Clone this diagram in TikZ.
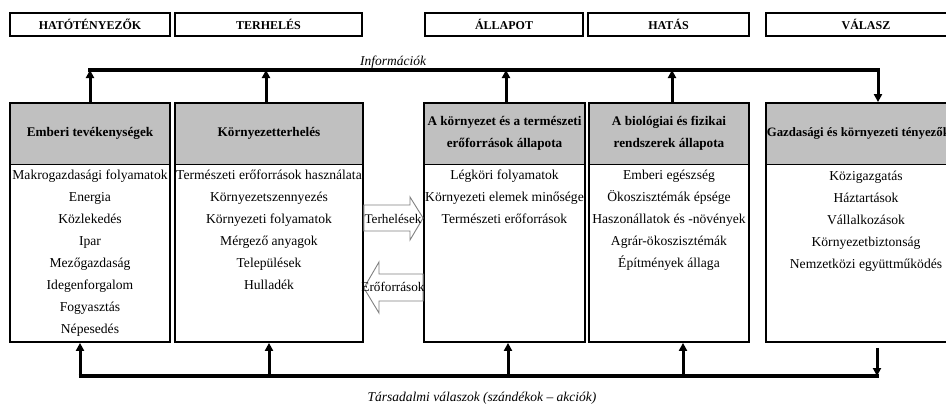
\documentclass[tikz,border=0pt]{standalone}
\usepackage{fontspec}
\setmainfont{Liberation Serif}
\usetikzlibrary{arrows.meta,calc}
\definecolor{hdrgray}{RGB}{192,192,192}
\definecolor{arrgray}{RGB}{128,128,128}
\begin{document}
\begin{tikzpicture}[x=1pt,y=-1pt,
  phase/.style={draw,line width=2pt,minimum height=23pt,inner sep=0pt,
    font=\bfseries\fontsize{12}{14}\selectfont},
  mainbox/.style={draw,line width=1.8pt,minimum height=239pt,inner sep=0pt,
    path picture={
      \fill[hdrgray] (path picture bounding box.north west) rectangle
        ([yshift=-61pt]path picture bounding box.north east);
      \draw[line width=0.8pt] ([yshift=-61pt]path picture bounding box.north west) --
        ([yshift=-61pt]path picture bounding box.north east);}},
  title/.style={font=\bfseries\fontsize{13.2}{22}\selectfont,align=center,inner sep=0pt},
  item/.style={font=\fontsize{13.6}{15}\selectfont,text height=10pt,text depth=3pt,inner sep=0pt},
  bus/.style={line width=4pt},
  tip/.style={line width=3pt,-{Triangle[length=8pt,width=8pt]}},
  lbl/.style={font=\itshape\fontsize{13.5}{15}\selectfont,inner sep=0pt},
  blockarrow/.style={draw=arrgray,fill=white,line width=0.9pt,line join=miter}
]
\useasboundingbox (0,0) rectangle (946,407);
\clip (0,0) rectangle (946,407);

% phase headers
\node[phase,minimum width=160pt] (h1) at (90,24) {HATÓTÉNYEZŐK};
\node[phase,minimum width=187pt] (h2) at (268.5,24) {TERHELÉS};
\node[phase,minimum width=158pt] (h3) at (504,24) {ÁLLAPOT};
\node[phase,minimum width=161pt] (h4) at (668.5,24) {HATÁS};
\node[phase,minimum width=200pt] (h5) at (866,24) {VÁLASZ};

% main boxes
\node[mainbox,minimum width=160pt] (b1) at (90,222.5) {};
\node[mainbox,minimum width=188pt] (b2) at (269,222.5) {};
\node[mainbox,minimum width=161pt] (b3) at (504.5,222.5) {};
\node[mainbox,minimum width=160pt] (b4) at (669,222.5) {};
\node[mainbox,minimum width=200pt] (b5) at (866,222.5) {};

% box titles
\node[title] (t1) at ($(b1.north)+(0,31)$) {Emberi tevékenységek};
\node[title] (t2) at ($(b2.north)+(0,31)$) {Környezetterhelés};
\node[title] (t3) at ($(b3.north)+(0,31)$) {A környezet és a természeti\\erőforrások állapota};
\node[title] (t4) at ($(b4.north)+(0,31)$) {A biológiai és fizikai\\rendszerek állapota};
\node[title,anchor=west,font=\bfseries\fontsize{12.8}{22}\selectfont] (t5) at ($(b5.north west)+(1.5,31)$) {Gazdasági és környezeti tényezők};

% items
\foreach \t [count=\i] in {Makrogazdasági folyamatok,Energia,Közlekedés,Ipar,Mezőgazdaság,Idegenforgalom,Fogyasztás,Népesedés}
  \node[item] (b1i\i) at ($(b1.north)+(0,74+22*\i-22)$) {\t};
\foreach \t [count=\i] in {Természeti erőforrások használata,Környezetszennyezés,Környezeti folyamatok,Mérgező anyagok,Települések,Hulladék}
  \node[item] (b2i\i) at ($(b2.north)+(0,74+22*\i-22)$) {\t};
\foreach \t [count=\i] in {Légköri folyamatok,Környezeti elemek minősége,Természeti erőforrások}
  \node[item] (b3i\i) at ($(b3.north)+(0,74+22*\i-22)$) {\t};
\foreach \t [count=\i] in {Emberi egészség,Ökoszisztémák épsége,Haszonállatok és -növények,Agrár-ökoszisztémák,Építmények állaga}
  \node[item] (b4i\i) at ($(b4.north)+(0,74+22*\i-22)$) {\t};
\foreach \t [count=\i] in {Közigazgatás,Háztartások,Vállalkozások,Környezetbiztonság,Nemzetközi együttműködés}
  \node[item] (b5i\i) at ($(b5.north)+(0,75+22*\i-22)$) {\t};

% block arrows
\draw[blockarrow] (b2.east |- 0,205) -- (410,205) -- (410,197) -- (b3.west |- 0,218)
  -- (410,240) -- (410,231) -- (b2.east |- 0,231) -- cycle;
\node[item,font=\fontsize{13.2}{15}\selectfont] (ter) at (393,220) {Terhelések};
\draw[blockarrow] (b3.west |- 0,274) -- (379,274) -- (379,262) -- (b2.east |- 0,288)
  -- (379,313) -- (379,301) -- (b3.west |- 0,301) -- cycle;
\node[item,font=\fontsize{13.2}{15}\selectfont] (ero) at (393,288) {Erőforrások};

% top bus (Információk)
\coordinate (topL) at (90,70);
\coordinate (topR) at (878,70);
\draw[bus,line cap=rect] (topL) -- (topR);
\draw[tip] (b1.north) -- (b1.north |- topL);
\draw[tip] ([xshift=-3pt]b2.north) -- ([xshift=-3pt]b2.north |- topL);
\draw[tip] ([xshift=1.5pt]b3.north) -- ([xshift=1.5pt]b3.north |- topL);
\draw[tip] ([xshift=3pt]b4.north) -- ([xshift=3pt]b4.north |- topL);
\draw[line width=3pt,-{Triangle[length=8pt,width=8pt]}] ([yshift=1pt]topR) -- (topR |- b5.north);
\node[lbl] (info) at (393,62) {Információk};

% bottom bus (Társadalmi válaszok)
\coordinate (botL) at (80,376);
\coordinate (botR) at (877,376);
\draw[bus] ([xshift=-1.5pt]botL) -- ([xshift=1.5pt]botR);
\draw[tip] (botL) -- (botL |- b1.south);
\draw[tip] (b2.south |- botL) -- (b2.south);
\draw[tip] ([xshift=3.5pt]b3.south |- botL) -- ([xshift=3.5pt]b3.south);
\draw[tip] ([xshift=14pt]b4.south |- botL) -- ([xshift=14pt]b4.south);
\draw[tip] ($(botR |- b5.south)+(0,5)$) -- (botR);
\node[lbl] (valasz) at (482,398) {Társadalmi válaszok (szándékok – akciók)};
\end{tikzpicture}
\end{document}
